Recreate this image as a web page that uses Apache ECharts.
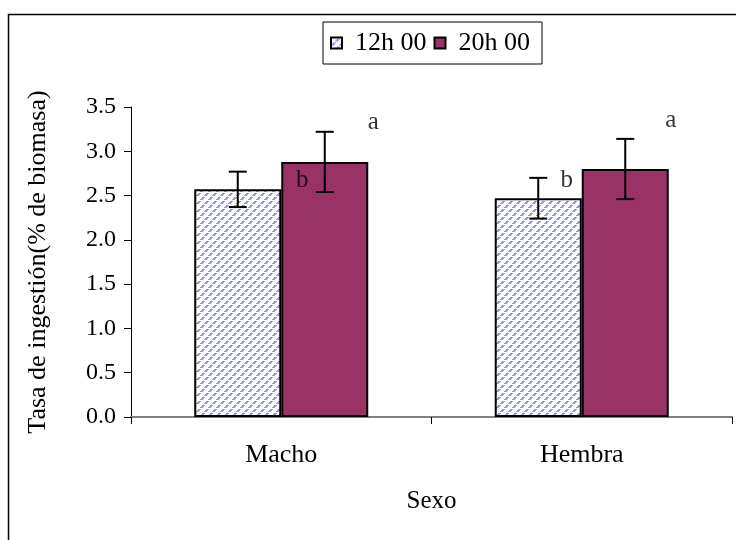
<!DOCTYPE html>
<html>
<head>
<meta charset="utf-8">
<script src="https://cdn.jsdelivr.net/npm/echarts@6/dist/echarts.min.js"></script>
<style>html,body{margin:0;padding:0;background:#fff}#c{width:736px;height:540px}</style>
</head>
<body>
<div id="c"></div>
<script>
const categories = ['Macho', 'Hembra'];
const seriesNames = ['12h 00', '20h 00'];
const values12 = [2.57, 2.47];
const values20 = [2.88, 2.80];
const err12 = [0.20, 0.23];
const err20 = [0.34, 0.34];
const yTicks = [0, 0.5, 1.0, 1.5, 2.0, 2.5, 3.0, 3.5];
const annotLabels = ['a', 'b', 'a', 'b'];
const annotCats = ['Macho', 'Macho', 'Hembra', 'Hembra'];
const annotValues = [3.33, 2.67, 3.35, 2.67];
const annotOffsets = [[92, 0], [21, 0], [89, 0], [-15, 0]];

const FONT = "'Liberation Serif','Times New Roman',serif";

// hatched pattern
const pc = document.createElement('canvas');
pc.width = 8; pc.height = 8;
const pctx = pc.getContext('2d');
pctx.fillStyle = '#ffffff';
pctx.fillRect(0, 0, 8, 8);
pctx.fillStyle = '#9494ff';
for (let i = 0; i < 8; i++) {
  if (i % 4 === 3) continue;
  const x = i, y = 7 - i;
  pctx.fillRect(x, y, 1, 1);
  pctx.fillRect((x + 1) % 8, y, 1, 1);
  pctx.fillRect((x + 2) % 8, y, 1, 1);
}
const hatch = { image: pc, repeat: 'repeat' };
const purple = '#993366';

const chart = echarts.init(document.getElementById('c'), null, { renderer: 'canvas' });

const barW = 87;
function errSeries(vals, errs, offset) {
  return {
    type: 'custom',
    silent: true,
    z: 5,
    data: vals.map((v, i) => [i, v - errs[i], v + errs[i]]),
    renderItem: function (params, api) {
      const lo = api.coord([api.value(0), api.value(1)]);
      const hi = api.coord([api.value(0), api.value(2)]);
      const x = lo[0] + offset;
      const cap = 9;
      const st = { stroke: '#000', lineWidth: 2 };
      return {
        type: 'group',
        children: [
          { type: 'line', shape: { x1: x, y1: lo[1], x2: x, y2: hi[1] }, style: st },
          { type: 'line', shape: { x1: x - cap, y1: lo[1], x2: x + cap, y2: lo[1] }, style: st },
          { type: 'line', shape: { x1: x - cap, y1: hi[1], x2: x + cap, y2: hi[1] }, style: st }
        ]
      };
    }
  };
}

chart.setOption({
  animation: false,
  backgroundColor: '#fff',
  textStyle: { fontFamily: FONT },
  graphic: [
    { type: 'rect', shape: { x: 8.5, y: 14.5, width: 760, height: 560 }, style: { fill: null, stroke: '#000', lineWidth: 1.5 }, z: -1 }
  ],
  legend: {
    left: 323, top: 22,
    padding: [8, 12, 8, 7],
    borderColor: '#000', borderWidth: 1,
    itemWidth: 11, itemHeight: 11, itemGap: 7,
    icon: 'rect',
    textStyle: { fontFamily: FONT, fontSize: 26, color: '#000', padding: [2, 0, 0, 8] },
    data: [
      { name: seriesNames[0], itemStyle: { color: hatch, borderColor: '#000', borderWidth: 2 } },
      { name: seriesNames[1], itemStyle: { color: purple, borderColor: '#000', borderWidth: 2 } }
    ]
  },
  grid: { left: 131, right: 4, top: 107, bottom: 123, containLabel: false },
  xAxis: {
    type: 'category',
    data: categories,
    name: 'Sexo',
    nameLocation: 'middle',
    nameGap: 72,
    nameTextStyle: { fontFamily: FONT, fontSize: 25, color: '#000' },
    axisLine: { lineStyle: { color: '#808080', width: 2 } },
    axisTick: { show: true, alignWithLabel: false, length: 7, lineStyle: { color: '#000', width: 1 } },
    axisLabel: { fontFamily: FONT, fontSize: 26, color: '#000', margin: 25 }
  },
  yAxis: {
    type: 'value',
    min: 0, max: 3.5, interval: 0.5,
    name: 'Tasa de ingestión(% de biomasa)',
    nameLocation: 'middle',
    nameGap: 80,
    nameTextStyle: { fontFamily: FONT, fontSize: 26, color: '#000' },
    splitLine: { show: false },
    axisLine: { show: true, lineStyle: { color: '#000', width: 1 } },
    axisTick: { show: true, length: 7, lineStyle: { color: '#000', width: 1 } },
    axisLabel: {
      fontFamily: FONT, fontSize: 24, color: '#000', margin: 15,
      formatter: v => yTicks.includes(v) ? v.toFixed(1) : ''
    }
  },
  series: [
    {
      name: seriesNames[0], type: 'bar', barWidth: barW, barGap: '0%',
      data: values12,
      itemStyle: { color: hatch, borderColor: '#000', borderWidth: 2 }
    },
    {
      name: seriesNames[1], type: 'bar', barWidth: barW, barGap: '0%',
      data: values20,
      itemStyle: { color: purple, borderColor: '#000', borderWidth: 2 }
    },
    errSeries(values12, err12, -barW / 2),
    errSeries(values20, err20, barW / 2),
    {
      type: 'scatter',
      silent: true,
      symbolSize: 0,
      z: 6,
      data: annotLabels.map((t, i) => ({
        value: [annotCats[i], annotValues[i]],
        label: { show: true, formatter: t, offset: annotOffsets[i], position: 'inside', fontFamily: FONT, fontSize: 25, color: '#000' }
      }))
    }
  ]
});
</script>
</body>
</html>
